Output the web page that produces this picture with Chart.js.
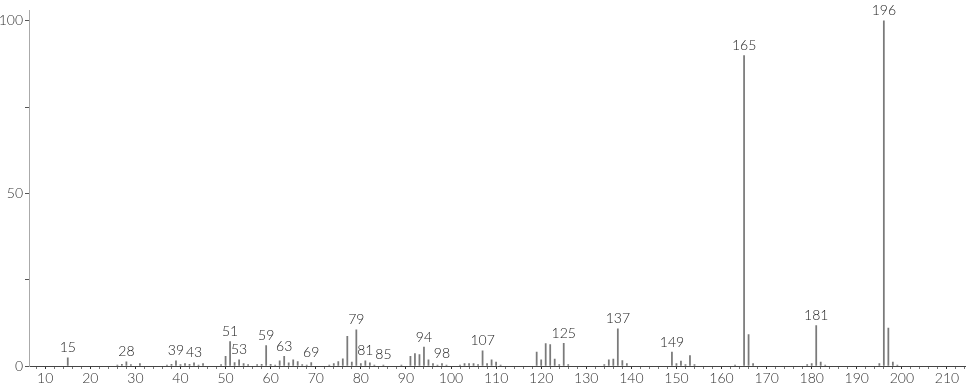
<!DOCTYPE html>
<html>
<head>
<meta charset="utf-8">
<script src="https://cdn.jsdelivr.net/npm/chart.js@4.4.0/dist/chart.umd.min.js"></script>
<style>
  html, body { margin: 0; padding: 0; background: #fff; }
  #wrap { width: 966px; height: 389px; position: relative; }
</style>
</head>
<body>
<div id="wrap"><canvas id="spectrum"></canvas></div>
<script>
// m/z values and relative intensities
const mz = [15, 26, 27, 28, 29, 31, 37, 38, 39, 40, 41, 42, 43, 44, 45, 49, 50, 51, 52, 53,
    54, 55, 57, 58, 59, 60, 61, 62, 63, 64, 65, 66, 67, 68, 69, 73, 74, 75, 76, 77,
    78, 79, 80, 81, 82, 83, 85, 89, 91, 92, 93, 94, 95, 96, 97, 98, 99, 102, 103, 104,
    105, 106, 107, 108, 109, 110, 111, 119, 120, 121, 122, 123, 124, 125, 126, 134, 135, 136, 137, 138,
    139, 149, 150, 151, 152, 153, 154, 163, 165, 166, 167, 179, 180, 181, 182, 183, 195, 196, 197, 198, 199];
const intensity = [2.4, 0.3, 0.5, 1.2, 0.4, 0.7, 0.3, 0.5, 1.5, 0.4, 0.7, 0.5, 0.9, 0.3, 0.7, 0.4, 2.8, 7.1, 1.0, 1.8,
    0.7, 0.4, 0.4, 0.5, 5.9, 0.5, 0.3, 1.5, 2.8, 0.9, 1.8, 1.3, 0.4, 0.3, 1.0, 0.3, 0.7, 1.3, 2.1, 8.6,
    1.1, 10.5, 0.7, 1.5, 0.9, 0.3, 0.3, 0.3, 2.8, 3.6, 3.3, 5.5, 1.8, 0.7, 0.3, 0.7, 0.3, 0.3, 0.7, 0.7,
    0.7, 0.4, 4.4, 0.7, 1.8, 1.1, 0.3, 4.0, 1.8, 6.5, 6.2, 2.0, 0.4, 6.6, 0.4, 0.4, 1.8, 2.0, 10.8, 1.6,
    0.7, 4.0, 0.7, 1.4, 0.4, 3.0, 0.4, 0.3, 89.9, 9.1, 0.7, 0.4, 0.7, 11.7, 1.1, 0.3, 0.7, 100, 11.0, 1.1, 0.3];

// peaks that carry a text label
const labelledPeaks = [15, 28, 39, 43, 51, 53, 59, 63, 69, 79, 81, 85, 94, 98, 107, 125, 137, 149, 165, 181, 196];

// axis ticks
const xTickValues = [];
for (let v = 8; v <= 214; v += 2) xTickValues.push(v);
const xTickLabels = [10, 20, 30, 40, 50, 60, 70, 80, 90, 100, 110, 120, 130, 140, 150, 160, 170, 180, 190, 200, 210];
const yTickValues = [0, 25, 50, 75, 100];
const yTickLabels = [0, 50, 100];

const FONT = 'Lato, "DejaVu Sans", sans-serif';

// draws the m/z text above the labelled peaks
const peakLabels = {
    id: 'peakLabels',
    afterDatasetsDraw(chart) {
        const ctx = chart.ctx;
        const x = chart.scales.x;
        const y = chart.scales.y;
        ctx.save();
        ctx.font = '300 14px ' + FONT;
        ctx.fillStyle = '#222';
        ctx.textAlign = 'center';
        ctx.textBaseline = 'bottom';
        labelledPeaks.forEach(m => {
            const i = mz.indexOf(m);
            if (i < 0) return;
            ctx.fillText(String(m), x.getPixelForValue(m), y.getPixelForValue(intensity[i]) - 3);
        });
        ctx.restore();
    }
};

function createSpectrum(targetID) {
    const ctx = document.getElementById(targetID).getContext('2d');
    return new Chart(ctx, {
        type: 'bar',
        data: {
            datasets: [{
                data: mz.map((m, i) => ({ x: m, y: intensity[i] })),
                backgroundColor: '#7a7a7a',
                borderWidth: 0,
                barThickness: 1.1
            }]
        },
        options: {
            responsive: true,
            maintainAspectRatio: false,
            animation: false,
            layout: { padding: { top: 0, right: 0, left: 0, bottom: 0 } },
            plugins: {
                legend: { display: false },
                tooltip: { enabled: false }
            },
            scales: {
                x: {
                    type: 'linear',
                    offset: false,
                    min: 6.4,
                    max: 214.1,
                    afterBuildTicks: scale => { scale.ticks = xTickValues.map(v => ({ value: v })); },
                    afterFit: scale => { scale.height = 23; },
                    border: { display: true, color: '#444', width: 1 },
                    grid: {
                        offset: false,
                        drawOnChartArea: false,
                        drawTicks: true,
                        tickLength: 3,
                        tickColor: c => (xTickLabels.includes(c.tick && c.tick.value) ? '#333' : '#777')
                    },
                    ticks: {
                        autoSkip: false,
                        maxRotation: 0,
                        padding: 1,
                        color: '#333',
                        font: { family: FONT, size: 14, weight: '300' },
                        callback: v => (xTickLabels.includes(v) ? String(v) : '')
                    }
                },
                y: {
                    min: 0,
                    max: 103,
                    afterBuildTicks: scale => { scale.ticks = yTickValues.map(v => ({ value: v })); },
                    afterFit: scale => { scale.width = 29; },
                    border: { display: true, color: '#aaa', width: 1 },
                    grid: {
                        drawOnChartArea: false,
                        drawTicks: true,
                        tickLength: 4,
                        tickColor: '#555'
                    },
                    ticks: {
                        padding: 2,
                        color: '#333',
                        font: { family: FONT, size: 14, weight: '300' },
                        callback: v => (yTickLabels.includes(v) ? String(v) : '')
                    }
                }
            }
        },
        plugins: [peakLabels]
    });
}

createSpectrum('spectrum');
</script>
</body>
</html>
